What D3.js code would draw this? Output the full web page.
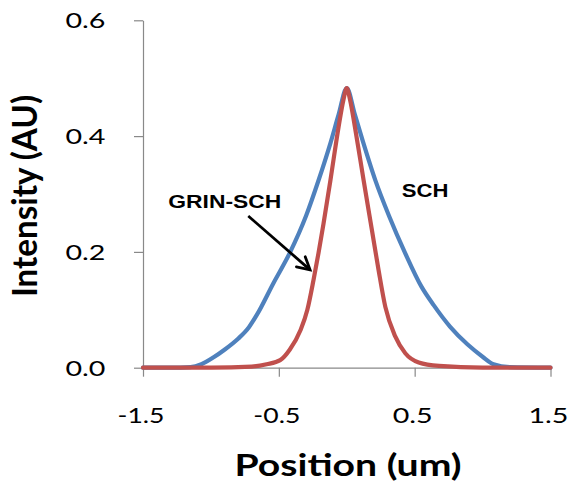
<!DOCTYPE html>
<html>
<head>
<meta charset="utf-8">
<script src="https://cdn.jsdelivr.net/npm/d3@7"></script>
<style>
  html, body { margin: 0; padding: 0; background: #fff; }
  svg { display: block; }
</style>
</head>
<body>
<svg id="chart" width="568" height="484"></svg>
<script>
// ---- data ----
const schPosition = [-1.5, -1.3, -1.15, -1.07, -0.98, -0.9, -0.8, -0.72, -0.66, -0.54, -0.42, -0.3, -0.21, -0.12, -0.06, 0, 0.06, 0.12, 0.21, 0.31, 0.43, 0.55, 0.64, 0.76, 0.89, 1.0, 1.08, 1.2, 1.5];
const schIntensity = [0, 0, 0.001, 0.006, 0.018, 0.031, 0.05, 0.07, 0.092, 0.146, 0.198, 0.262, 0.322, 0.388, 0.437, 0.483, 0.437, 0.39, 0.324, 0.263, 0.198, 0.14, 0.108, 0.071, 0.04, 0.019, 0.006, 0.001, 0];

const grinPosition = [-1.5, -1.0, -0.7, -0.59, -0.49, -0.42, -0.34, -0.29, -0.245, -0.208, -0.171, -0.12, -0.06, -0.025, 0, 0.025, 0.06, 0.124, 0.185, 0.234, 0.284, 0.357, 0.431, 0.53, 0.68, 1.0, 1.5];
const grinIntensity = [0, 0, 0.002, 0.006, 0.013, 0.031, 0.065, 0.1, 0.151, 0.198, 0.249, 0.324, 0.416, 0.462, 0.483, 0.462, 0.416, 0.324, 0.238, 0.169, 0.105, 0.054, 0.025, 0.009, 0.003, 0, 0];

const xTicks = [-1.5, -0.5, 0.5, 1.5];
const xTickLabels = ["-1.5", "-0.5", "0.5", "1.5"];
const yTicks = [0, 0.2, 0.4, 0.6];
const yTickLabels = ["0.0", "0.2", "0.4", "0.6"];

const xTitle = "Position (um)";
const yTitle = "Intensity (AU)";
const seriesNames = ["SCH", "GRIN-SCH"];

// ---- layout ----
const svg = d3.select("#chart");
const x = d3.scaleLinear().domain([-1.5, 1.5]).range([143, 550.5]);
const y = d3.scaleLinear().domain([0, 0.6]).range([367.7, 20.3]);
const axisColor = "#898989";
const tickFont = "Lato, 'Liberation Sans', sans-serif";

// axes
const gx = svg.append("g").attr("transform", `translate(0,${y(0)})`)
  .call(d3.axisBottom(x).tickValues(xTicks).tickSize(9).tickSizeOuter(0).tickPadding(31.5)
    .tickFormat((d, i) => xTickLabels[i]));
const gy = svg.append("g").attr("transform", `translate(${x(-1.5)},0)`)
  .call(d3.axisLeft(y).tickValues(yTicks).tickSize(9).tickSizeOuter(0).tickPadding(28.5)
    .tickFormat((d, i) => yTickLabels[i]));

[gx, gy].forEach(g => {
  g.select(".domain").attr("stroke", axisColor).attr("stroke-width", 1.2);
  g.selectAll(".tick line").attr("stroke", axisColor).attr("stroke-width", 1.2);
  g.selectAll(".tick text").attr("fill", "#000").attr("font-family", tickFont)
    .attr("font-size", 21).attr("lengthAdjust", "spacingAndGlyphs");
});
gx.selectAll(".tick text")
  .attr("textLength", (d, i) => xTickLabels[i].startsWith("-") ? 47 : 40)
  .attr("dx", -2.5);
gy.selectAll(".tick text").attr("textLength", 40).attr("dy", "0.36em");

// lines
const line = (xs, ys) => d3.line()
  .x((d, i) => x(xs[i])).y((d, i) => y(ys[i]))
  .curve(d3.curveMonotoneX)(xs);

svg.append("path").attr("d", line(schPosition, schIntensity))
  .attr("fill", "none").attr("stroke", "#4F81BD").attr("stroke-width", 4.2)
  .attr("stroke-linejoin", "round").attr("stroke-linecap", "round");
svg.append("path").attr("d", line(grinPosition, grinIntensity))
  .attr("fill", "none").attr("stroke", "#C0504D").attr("stroke-width", 4.2)
  .attr("stroke-linejoin", "round").attr("stroke-linecap", "round");

// annotations
const annFont = "'Liberation Sans', Arial, sans-serif";
svg.append("text").text(seriesNames[1])
  .attr("x", x(-1.314)).attr("y", y(0.2751))
  .attr("font-family", annFont).attr("font-weight", "bold").attr("font-size", 18.6)
  .attr("textLength", 113).attr("lengthAdjust", "spacingAndGlyphs");
svg.append("text").text(seriesNames[0])
  .attr("x", x(0.4045)).attr("y", y(0.2943))
  .attr("font-family", annFont).attr("font-weight", "bold").attr("font-size", 18.6)
  .attr("textLength", 46.7).attr("lengthAdjust", "spacingAndGlyphs");

// arrow
const a0 = [x(-0.725), y(0.262)], a1 = [x(-0.27), y(0.169)];
const ang = Math.atan2(a1[1] - a0[1], a1[0] - a0[0]);
const wl = 14, wa = 0.5;
const w1 = [a1[0] - wl * Math.cos(ang - wa), a1[1] - wl * Math.sin(ang - wa)];
const w2 = [a1[0] - wl * Math.cos(ang + wa), a1[1] - wl * Math.sin(ang + wa)];
svg.append("path")
  .attr("d", `M${a0}L${a1[0] - 1.5 * Math.cos(ang)},${a1[1] - 1.5 * Math.sin(ang)}`)
  .attr("stroke", "#000").attr("stroke-width", 2.8).attr("fill", "none");
svg.append("path")
  .attr("d", `M${w1}L${a1}L${w2}`)
  .attr("stroke", "#000").attr("stroke-width", 2.8).attr("fill", "none")
  .attr("stroke-linejoin", "miter").attr("stroke-linecap", "round");

// axis titles
const titleFont = "Lato, 'Liberation Sans', sans-serif";
svg.append("text").text(xTitle)
  .attr("x", 348).attr("y", 476).attr("text-anchor", "middle")
  .attr("font-family", titleFont).attr("font-weight", "bold").attr("font-size", 30.5)
  .attr("textLength", 227).attr("lengthAdjust", "spacingAndGlyphs");
svg.append("text").text(yTitle)
  .attr("transform", "translate(37,196) scale(1.1,1) rotate(-90)")
  .attr("text-anchor", "middle")
  .attr("font-family", titleFont).attr("font-weight", "bold").attr("font-size", 31.5)
  .attr("textLength", 202).attr("lengthAdjust", "spacingAndGlyphs");
</script>
</body>
</html>
